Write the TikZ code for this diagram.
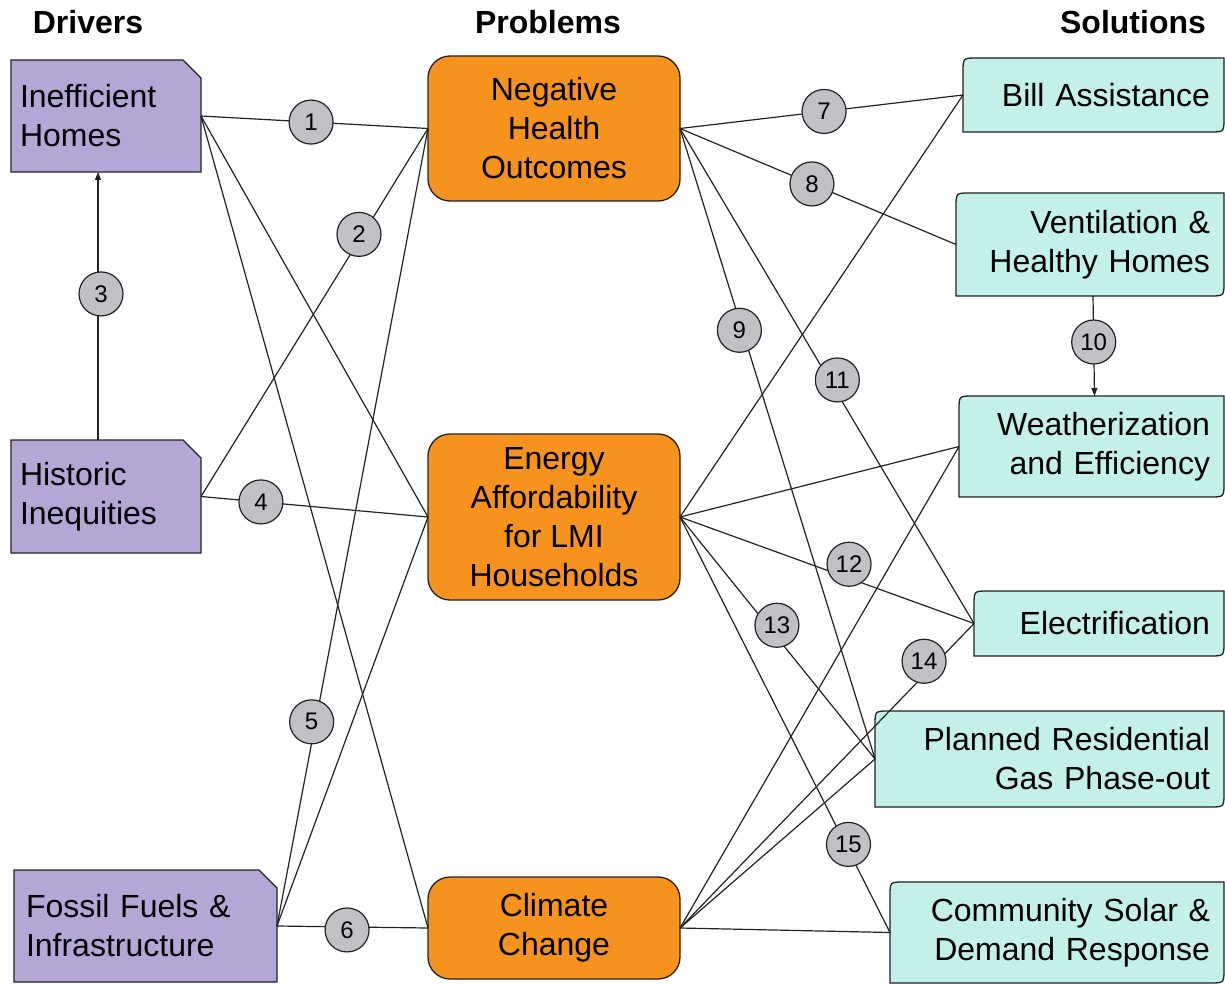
\documentclass[tikz,border=0pt]{standalone}
\usepackage{fontspec}
\setmainfont{Liberation Sans}
\usetikzlibrary{arrows.meta,calc,backgrounds}
\definecolor{drvfill}{HTML}{B4A7D6}
\definecolor{prbfill}{HTML}{F6921E}
\definecolor{solfill}{HTML}{C3F0E8}
\definecolor{numfill}{HTML}{C1C0C5}
\definecolor{edgec}{HTML}{222222}
\newcommand\drvshape[1]{\draw[drvbox] (#1.south west) -- (#1.north west) -- ($(#1.north east)+(-18,0)$) -- ($(#1.north east)+(0,18)$) -- (#1.south east) -- cycle;}
\newcommand\solshape[1]{\draw[solbox] (#1.south west) -- ($(#1.north west)+(0,14)$) .. controls (#1.north west) .. ($(#1.north west)+(14,0)$) -- (#1.north east) -- ($(#1.south east)+(0,-14)$) .. controls (#1.south east) .. ($(#1.south east)+(-14,0)$) -- cycle;}
\begin{document}
\begin{tikzpicture}[x=1pt,y=-1pt,
  body/.style={font=\fontsize{32}{39}\selectfont, inner ysep=0pt, outer sep=0pt, anchor=north west},
  drv/.style={body, align=left, inner xsep=9pt},
  prb/.style={body, align=center, draw=edgec, fill=prbfill, line width=1.3pt, rounded corners=22pt, inner xsep=0pt},
  sol/.style={body, align=right, inner xsep=14pt},
  drvbox/.style={draw=edgec, fill=drvfill, line width=1.3pt},
  solbox/.style={draw=edgec, fill=solfill, line width=1.3pt},
  hdr/.style={font=\fontsize{32}{36}\selectfont\bfseries, inner sep=0pt},
  conn/.style={draw=edgec, line width=1.2pt},
  num/.style={circle, draw=edgec, fill=numfill, line width=1.2pt, minimum size=44pt, inner sep=0pt, font=\fontsize{24}{24}\selectfont},
  tip/.style={-{Triangle[length=8pt,width=6pt]}}]
\useasboundingbox (0,0) rectangle (1225,984);
% headers
\node[hdr] (hdrv) at (88,22) {Drivers};
\node[hdr] (hprb) at (548,22) {Problems};
\node[hdr] (hsol) at (1133,22) {Solutions};
% drivers
\node[drv, text width=172pt, minimum height=112pt] (ih) at (11,60) {Inefficient\\Homes};
\node[drv, text width=172pt, minimum height=113pt] (hi) at (11,440) {Historic\\Inequities};
\node[drv, inner xsep=12pt, text width=239pt, minimum height=112pt] (ff) at (14,870) {Fossil Fuels \&\\Infrastructure};
% problems
\node[prb, minimum width=252pt, minimum height=145pt] (nh) at (428,56) {Negative\\Health\\Outcomes};
\node[prb, minimum width=252pt, minimum height=166pt] (ea) at (428,434) {Energy\\Affordability\\for LMI\\Households};
\node[prb, minimum width=252pt, minimum height=102pt] (cc) at (428,877) {Climate\\Change};
% solutions
\node[sol, text width=233pt, minimum height=74pt] (ba) at (963,58) {Bill Assistance};
\node[sol, text width=240pt, minimum height=103pt] (ve) at (956,193) {Ventilation \&\\Healthy Homes};
\node[sol, text width=237pt, minimum height=101pt] (we) at (959,396) {Weatherization\\and Efficiency};
\node[sol, text width=222pt, minimum height=65pt] (el) at (974,591) {Electrification};
\node[sol, text width=321pt, minimum height=96pt] (pr) at (875,711) {Planned Residential\\Gas Phase-out};
\node[sol, text width=306pt, minimum height=101pt] (cs) at (890,882) {Community Solar \&\\Demand Response};
\begin{scope}[on background layer]
\drvshape{ih}\drvshape{hi}\drvshape{ff}
\solshape{ba}\solshape{ve}\solshape{we}\solshape{el}\solshape{pr}\solshape{cs}
\end{scope}
% left connectors
\draw[conn] (ih.east) -- node[num,pos=.485]{1} (nh.west);
\draw[conn] (ih.east) -- (ea.west);
\draw[conn] (ih.east) -- (cc.west);
\draw[conn] (hi.east) -- node[num,pos=.696,yshift=6pt]{2} (nh.west);
\draw[conn,tip] ([xshift=-8pt]hi.north) -- node[num,pos=.545,xshift=3pt]{3} ([xshift=-8pt]ih.south);
\draw[conn] (hi.east) -- node[num,pos=.264]{4} (ea.west);
\draw[conn] (ff.east) -- node[num,pos=.256,xshift=-4pt]{5} (nh.west);
\draw[conn] (ff.east) -- (ea.west);
\draw[conn] (ff.east) -- node[num,pos=.464,yshift=-3pt]{6} (cc.west);
% right connectors
\draw[conn] (nh.east) -- node[num,pos=.509]{7} (ba.west);
\draw[conn] (nh.east) -- node[num,pos=.478]{8} (ve.west);
\draw[conn] (nh.east) -- node[num,pos=.32,xshift=-3pt]{9} (pr.west);
\draw[conn] (nh.east) -- node[num,pos=.508,xshift=8pt]{11} (el.west);
\draw[conn,tip] ([xshift=3pt]ve.south) -- node[num,pos=.46]{10} ([xshift=3pt]we.north);
\draw[conn] (ea.east) -- (ba.west);
\draw[conn] (ea.east) -- (we.west);
\draw[conn] (ea.east) -- node[num,pos=.575,yshift=14pt]{12} (el.west);
\draw[conn] (ea.east) -- node[num,pos=.497,yshift=12pt]{13} (pr.west);
\draw[conn] (ea.east) -- node[num,pos=.788,xshift=3pt]{15} (cs.west);
\draw[conn] (cc.east) -- (we.west);
\draw[conn] (cc.east) -- node[num,pos=.83,yshift=14pt]{14} (el.west);
\draw[conn] (cc.east) -- (pr.west);
\draw[conn] (cc.east) -- (cs.west);
\end{tikzpicture}
\end{document}
